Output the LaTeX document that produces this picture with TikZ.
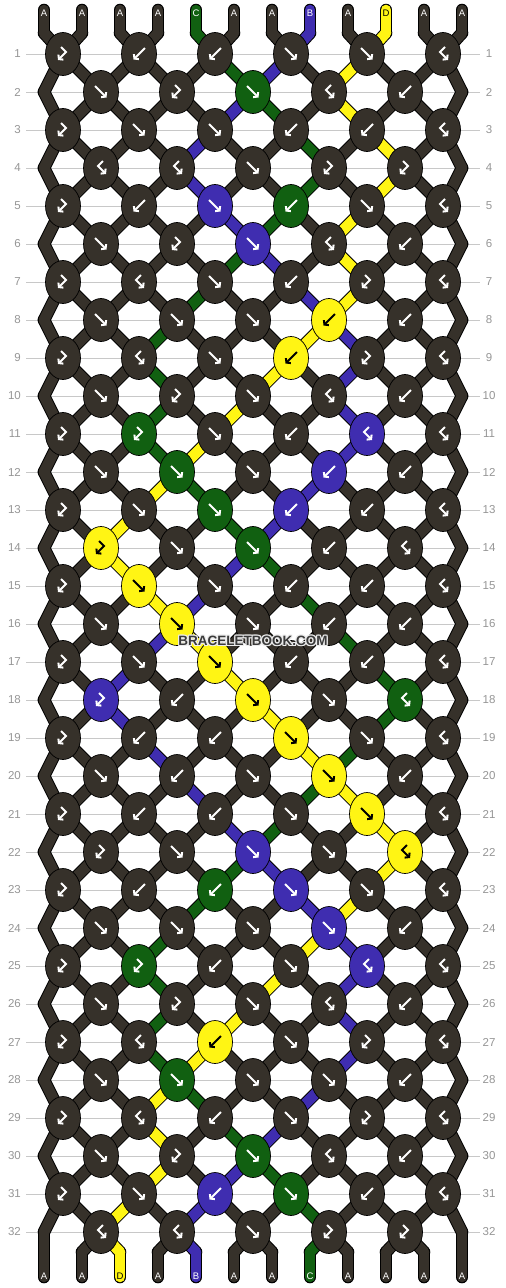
\documentclass[tikz,border=0pt]{standalone}
\usepackage{fontspec}
\setmainfont{Liberation Sans}
\usepackage{tikz}
\usetikzlibrary{arrows.meta,backgrounds,calc,shapes.geometric}
\definecolor{thrA}{RGB}{54,49,42}
\definecolor{thrB}{RGB}{63,45,176}
\definecolor{thrC}{RGB}{17,96,17}
\definecolor{thrD}{RGB}{255,245,20}
\definecolor{rowline}{RGB}{200,200,200}
\definecolor{rownum}{RGB}{150,150,150}
\definecolor{wmark}{RGB}{58,58,58}
\pgfdeclarelayer{grid}
\pgfsetlayers{grid,background,main}
% string colour at a position, knot types
\newcommand\setpc[2]{\expandafter\xdef\csname pc#1\endcsname{#2}}
\newcommand\getpc[1]{\csname pc#1\endcsname}
\def\tyf{f}\def\tyb{b}\def\tyfb{fb}\def\tybf{bf}\def\colD{D}

\begin{document}
\begin{tikzpicture}[x=1pt,y=-1pt,
  knot/.style={ellipse,draw=black,line width=0.7pt,minimum width=35pt,minimum height=43pt,inner sep=0pt},
  rim/.style={line width=12.6pt,line cap=round,draw=black},
  thread/.style={line width=10.6pt,line cap=round},
  glyph/.style={line width=2pt,-{Straight Barb[length=2.8pt,width=7pt]}},
  rowno/.style={text=rownum,font=\fontsize{11.5}{12}\selectfont,inner sep=0pt},
  endlbl/.style={font=\fontsize{9.5}{10}\selectfont,inner sep=0pt},
  wm/.style={text=wmark,font=\bfseries\fontsize{13.5}{14}\selectfont,inner sep=0pt}]
\useasboundingbox (0,0) rectangle (506,1288);

\begin{pgfonlayer}{grid}
\fill[white] (0,0) rectangle (506,1288);
\foreach \rw in {1,...,32}{
  \pgfmathtruncatemacro\ky{16+38*\rw}
  \draw[rowline,line width=1pt] (26,\ky) -- (480,\ky);
  \node[rowno,anchor=east] (nl\rw) at (21,\ky) {\rw};
  \node[rowno] (nr\rw) at (489,\ky) {\rw};
}
\end{pgfonlayer}

% loose ends
\foreach \ic [count=\ps] in {A,A,A,A,C,A,A,B,A,D,A,A}{
  \pgfmathtruncatemacro\sx{6+38*\ps}
  \setpc{\ps}{\ic}
  \expandafter\xdef\csname sc0-\ps\endcsname{\ic}
  \coordinate (s\ps) at (\sx,10);
  \coordinate (t\ps) at (\sx,33);
  \expandafter\xdef\csname at0-\ps\endcsname{t\ps}
  \coordinate (b\ps) at (\sx,1252);
  \coordinate (z\ps) at (\sx,1277);
  \expandafter\xdef\csname at33-\ps\endcsname{b\ps}
}

% knots, row by row
\foreach \rw/\ks in {
  1/{bf,b,b,f,f,fb}, 2/{f,bf,f,fb,b}, 3/{bf,f,f,b,b,fb}, 4/{fb,fb,f,bf,bf},
  5/{bf,b,f,b,f,fb}, 6/{f,bf,f,fb,b}, 7/{bf,fb,f,b,bf,fb}, 8/{f,f,f,b,b},
  9/{bf,fb,f,b,bf,fb}, 10/{f,bf,f,fb,b}, 11/{bf,bf,f,b,fb,fb}, 12/{f,f,f,b,b},
  13/{bf,f,f,b,b,fb}, 14/{bf,f,f,b,fb}, 15/{bf,f,f,b,b,fb}, 16/{f,f,f,b,b},
  17/{bf,f,f,b,b,fb}, 18/{bf,b,f,f,fb}, 19/{bf,b,b,f,f,fb}, 20/{f,b,f,f,b},
  21/{bf,b,b,f,f,fb}, 22/{bf,f,f,f,fb}, 23/{bf,b,b,f,f,fb}, 24/{f,f,f,f,b},
  25/{bf,bf,b,f,fb,fb}, 26/{f,bf,f,fb,b}, 27/{bf,fb,b,f,bf,fb}, 28/{f,f,f,f,b},
  29/{bf,fb,b,f,bf,fb}, 30/{f,bf,f,fb,b}, 31/{bf,f,b,f,b,fb}, 32/{fb,fb,f,bf,bf}}{
  \pgfmathtruncatemacro\odd{mod(\rw,2)}
  \pgfmathtruncatemacro\ky{16+38*\rw}
  \foreach \kt [count=\kn] in \ks {
    \pgfmathtruncatemacro\pa{2*\kn-\odd}
    \pgfmathtruncatemacro\pb{\pa+1}
    \pgfmathtruncatemacro\kx{25+38*\pa}
    \edef\ty{\kt}
    \edef\lcol{\getpc{\pa}}\edef\rcol{\getpc{\pb}}
    \ifx\ty\tyf \let\kc\lcol \else\ifx\ty\tyfb \let\kc\lcol \else \let\kc\rcol \fi\fi
    \ifx\kc\colD \def\gc{black}\else\def\gc{white}\fi
    \node[knot,fill=thr\kc] (k\rw-\kn) at (\kx,\ky) {};
    \begin{scope}[shift={(\kx,\ky)}]
      \ifx\ty\tyf \draw[glyph,draw=\gc] (-6,-6) -- (5.5,5.5); \fi
      \ifx\ty\tyb \draw[glyph,draw=\gc] (6,-6) -- (-5.5,5.5); \fi
      \ifx\ty\tyfb \draw[glyph,draw=\gc] (2,-7) -- (-3,-2) -- (5,6); \fi
      \ifx\ty\tybf \draw[glyph,draw=\gc] (-2,-7) -- (3,-2) -- (-5,6); \fi
    \end{scope}
    \expandafter\xdef\csname at\rw-\pa\endcsname{k\rw-\kn}
    \expandafter\xdef\csname at\rw-\pb\endcsname{k\rw-\kn}
    \ifx\ty\tyf \setpc{\pa}{\rcol}\setpc{\pb}{\lcol}\fi
    \ifx\ty\tyb \setpc{\pa}{\rcol}\setpc{\pb}{\lcol}\fi
  }
  \ifnum\odd=0
    \coordinate (e\rw-1) at (44,\ky);
    \coordinate (e\rw-12) at (462,\ky);
    \expandafter\xdef\csname at\rw-1\endcsname{e\rw-1}
    \expandafter\xdef\csname at\rw-12\endcsname{e\rw-12}
  \fi
  \foreach \ps in {1,...,12}{\expandafter\xdef\csname sc\rw-\ps\endcsname{\getpc{\ps}}}
}

% threads between knots
\begin{pgfonlayer}{background}
\foreach \rw in {0,...,32}{
  \pgfmathtruncatemacro\rn{\rw+1}
  \foreach \ps in {1,...,12}{
    \edef\na{\csname at\rw-\ps\endcsname}\edef\nb{\csname at\rn-\ps\endcsname}
    \draw[rim] (\na.center) -- (\nb.center);
  }
}
\foreach \ps in {1,...,12}{
  \draw[rim] (s\ps) -- (t\ps);
  \draw[rim] (b\ps) -- (z\ps);
}
\foreach \rw in {0,...,32}{
  \pgfmathtruncatemacro\rn{\rw+1}
  \foreach \ps in {1,...,12}{
    \edef\na{\csname at\rw-\ps\endcsname}\edef\nb{\csname at\rn-\ps\endcsname}
    \edef\segc{\csname sc\rw-\ps\endcsname}
    \draw[thread,draw=thr\segc] (\na.center) -- (\nb.center);
  }
}
\foreach \ps in {1,...,12}{
  \edef\segc{\csname sc0-\ps\endcsname}
  \draw[thread,draw=thr\segc] (s\ps) -- (t\ps);
  \edef\segc{\csname sc32-\ps\endcsname}
  \draw[thread,draw=thr\segc] (b\ps) -- (z\ps);
}
\end{pgfonlayer}

% end labels
\foreach \ps in {1,...,12}{
  \pgfmathtruncatemacro\sx{6+38*\ps}
  \edef\segc{\csname sc0-\ps\endcsname}
  \ifx\segc\colD \def\gc{black}\else\def\gc{white}\fi
  \node[endlbl,text=\gc] (top\ps) at (\sx,13) {\segc};
  \edef\segc{\csname sc32-\ps\endcsname}
  \ifx\segc\colD \def\gc{black}\else\def\gc{white}\fi
  \node[endlbl,text=\gc] (bot\ps) at (\sx,1276) {\segc};
}

% watermark with a light rim
\foreach \dx/\dy [count=\i] in {1/0,-1/0,0/1,0/-1,1/1,1/-1,-1/1,-1/-1}
  \node[wm,text=white!85!gray] (halo\i) at (253+\dx,641+\dy) {BRACELETBOOK.COM};
\node[wm] (mark) at (253,641) {BRACELETBOOK.COM};
\end{tikzpicture}
\end{document}
